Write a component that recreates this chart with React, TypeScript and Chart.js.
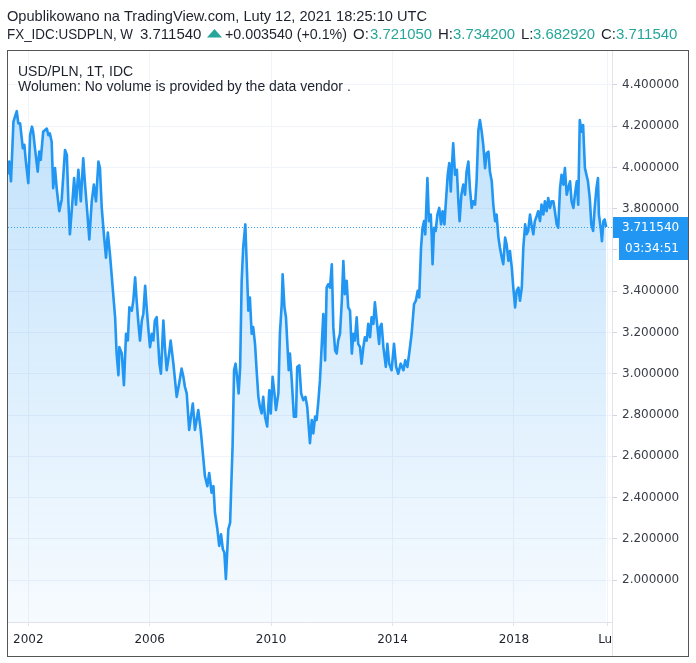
import React, { useEffect, useRef } from 'react';
import { Chart, registerables } from 'chart.js';

Chart.register(...registerables);

// ---- data (weekly closes) ----
const dates = [
  2001.31, 2001.37, 2001.43, 2001.51, 2001.62, 2001.67, 2001.73, 2001.82, 2001.87, 2001.92,
  2002.00, 2002.06, 2002.12, 2002.16, 2002.22, 2002.31, 2002.36, 2002.41, 2002.49, 2002.61,
  2002.66, 2002.71, 2002.77, 2002.82, 2002.88, 2002.94, 2003.02, 2003.10, 2003.21, 2003.27,
  2003.32, 2003.37, 2003.43, 2003.51, 2003.57, 2003.65, 2003.73, 2003.81, 2003.87, 2003.94,
  2004.01, 2004.09, 2004.16, 2004.23, 2004.31, 2004.36, 2004.42, 2004.49, 2004.56, 2004.62,
  2004.69, 2004.78, 2004.86, 2004.91, 2004.97, 2005.00, 2005.08, 2005.15, 2005.22, 2005.28,
  2005.33, 2005.41, 2005.46, 2005.52, 2005.57, 2005.62, 2005.68, 2005.74, 2005.79, 2005.85,
  2005.90, 2005.95, 2006.01, 2006.07, 2006.12, 2006.17, 2006.23, 2006.32, 2006.37, 2006.45,
  2006.50, 2006.56, 2006.64, 2006.69, 2006.78, 2006.89, 2006.97, 2007.05, 2007.11, 2007.16,
  2007.22, 2007.30, 2007.42, 2007.49, 2007.60, 2007.68, 2007.75, 2007.82, 2007.90, 2007.96,
  2008.04, 2008.10, 2008.15, 2008.23, 2008.29, 2008.35, 2008.41, 2008.46, 2008.51, 2008.59,
  2008.65, 2008.68, 2008.73, 2008.78, 2008.83, 2008.89, 2008.93, 2008.98, 2009.03, 2009.08,
  2009.15, 2009.20, 2009.25, 2009.30, 2009.36, 2009.41, 2009.47, 2009.53, 2009.58, 2009.63,
  2009.69, 2009.74, 2009.80, 2009.87, 2009.94, 2009.99, 2010.05, 2010.11, 2010.16, 2010.24,
  2010.29, 2010.35, 2010.38, 2010.44, 2010.49, 2010.53, 2010.58, 2010.62, 2010.68, 2010.75,
  2010.82, 2010.86, 2010.93, 2010.99, 2011.06, 2011.13, 2011.19, 2011.28, 2011.34, 2011.39,
  2011.45, 2011.50, 2011.56, 2011.61, 2011.67, 2011.72, 2011.78, 2011.83, 2011.88, 2011.94,
  2012.00, 2012.05, 2012.11, 2012.16, 2012.21, 2012.27, 2012.33, 2012.38, 2012.43, 2012.49,
  2012.54, 2012.60, 2012.66, 2012.71, 2012.76, 2012.82, 2012.87, 2012.93, 2012.98, 2013.04,
  2013.09, 2013.15, 2013.20, 2013.26, 2013.31, 2013.37, 2013.42, 2013.48, 2013.56, 2013.59,
  2013.64, 2013.70, 2013.78, 2013.83, 2013.89, 2013.97, 2014.05, 2014.12, 2014.19, 2014.27,
  2014.36, 2014.42, 2014.49, 2014.55, 2014.63, 2014.71, 2014.77, 2014.83, 2014.88, 2014.94,
  2014.99, 2015.04, 2015.08, 2015.15, 2015.20, 2015.26, 2015.29, 2015.32, 2015.37, 2015.42,
  2015.48, 2015.54, 2015.60, 2015.65, 2015.71, 2015.76, 2015.82, 2015.87, 2015.92, 2015.96,
  2016.00, 2016.06, 2016.12, 2016.17, 2016.21, 2016.27, 2016.33, 2016.39, 2016.44, 2016.50,
  2016.55, 2016.61, 2016.66, 2016.72, 2016.77, 2016.83, 2016.88, 2016.94, 2016.99, 2017.05,
  2017.10, 2017.16, 2017.21, 2017.27, 2017.32, 2017.38, 2017.43, 2017.49, 2017.54, 2017.60,
  2017.65, 2017.71, 2017.76, 2017.82, 2017.87, 2017.93, 2017.98, 2018.04, 2018.09, 2018.15,
  2018.20, 2018.26, 2018.31, 2018.37, 2018.42, 2018.47, 2018.53, 2018.58, 2018.64, 2018.69,
  2018.75, 2018.80, 2018.86, 2018.91, 2018.97, 2019.02, 2019.08, 2019.13, 2019.19, 2019.24,
  2019.30, 2019.35, 2019.41, 2019.46, 2019.52, 2019.57, 2019.63, 2019.68, 2019.74, 2019.79,
  2019.85, 2019.90, 2019.96, 2020.01, 2020.07, 2020.12, 2020.17, 2020.23, 2020.28, 2020.34,
  2020.39, 2020.44, 2020.50, 2020.55, 2020.61, 2020.66, 2020.72, 2020.77, 2020.80, 2020.86,
  2020.90, 2020.95, 2020.99, 2021.04,
];

const closes = [
  3.965, 4.029, 3.933, 4.222, 4.273, 4.214, 4.214, 4.093, 4.110, 4.029,
  3.924, 4.157, 4.198, 4.173, 4.093, 3.980, 4.077, 4.037, 4.173, 4.189,
  4.157, 4.165, 4.125, 3.900, 3.997, 3.892, 3.788, 3.844, 4.085, 4.061,
  3.836, 3.676, 3.788, 3.949, 3.820, 3.989, 3.836, 4.045, 3.917, 3.788,
  3.651, 3.836, 3.917, 3.836, 4.029, 3.997, 3.804, 3.676, 3.563, 3.684,
  3.580, 3.418, 3.274, 3.098, 2.993, 3.129, 3.098, 2.945, 3.194, 3.161,
  3.322, 3.306, 3.354, 3.467, 3.354, 3.258, 3.161, 3.258, 3.290, 3.427,
  3.322, 3.226, 3.129, 3.194, 3.161, 3.258, 3.274, 3.049, 3.000, 3.258,
  3.129, 3.017, 3.098, 3.161, 3.049, 2.888, 2.953, 3.025, 2.985, 2.937,
  2.905, 2.728, 2.856, 2.728, 2.824, 2.728, 2.616, 2.503, 2.455, 2.519,
  2.423, 2.455, 2.326, 2.246, 2.165, 2.222, 2.149, 2.133, 2.005, 2.246,
  2.278, 2.423, 2.647, 3.017, 3.049, 2.969, 2.905, 3.033, 3.451, 3.611,
  3.724, 3.515, 3.306, 3.370, 3.194, 3.226, 3.145, 3.000, 2.888, 2.840,
  2.808, 2.888, 2.792, 2.744, 2.920, 2.808, 2.985, 2.905, 2.824, 2.905,
  3.194, 3.338, 3.482, 3.322, 3.274, 3.161, 3.017, 3.098, 2.969, 2.792,
  2.792, 3.033, 3.041, 2.905, 2.872, 2.888, 2.840, 2.663, 2.776, 2.711,
  2.792, 2.776, 2.872, 2.969, 3.145, 3.290, 3.065, 3.418, 3.434, 3.418,
  3.531, 3.226, 3.113, 3.098, 3.161, 3.194, 3.354, 3.547, 3.386, 3.451,
  3.322, 3.306, 3.098, 3.194, 3.161, 3.274, 3.145, 3.129, 3.049, 3.129,
  3.177, 3.161, 3.242, 3.177, 3.274, 3.242, 3.346, 3.258, 3.145, 3.226,
  3.242, 3.129, 3.033, 3.145, 3.049, 3.017, 3.145, 3.033, 3.000, 3.049,
  3.017, 3.065, 3.033, 3.098, 3.194, 3.338, 3.354, 3.402, 3.370, 3.611,
  3.708, 3.740, 3.676, 3.949, 3.740, 3.772, 3.676, 3.531, 3.708, 3.692,
  3.772, 3.804, 3.724, 3.788, 3.724, 3.836, 3.965, 4.021, 3.884, 4.013,
  4.117, 3.965, 3.989, 3.836, 3.740, 3.868, 3.917, 3.868, 3.980, 4.029,
  3.900, 3.804, 3.836, 3.820, 3.933, 4.181, 4.230, 4.173, 4.110, 3.997,
  4.069, 4.077, 3.980, 3.933, 3.820, 3.740, 3.772, 3.660, 3.611, 3.563,
  3.531, 3.660, 3.627, 3.547, 3.595, 3.515, 3.418, 3.322, 3.402, 3.418,
  3.354, 3.418, 3.611, 3.724, 3.676, 3.692, 3.772, 3.724, 3.676, 3.740,
  3.764, 3.788, 3.740, 3.820, 3.772, 3.836, 3.788, 3.852, 3.804, 3.836,
  3.836, 3.788, 3.724, 3.708, 3.900, 3.965, 3.917, 3.997, 3.868, 3.900,
  3.933, 3.836, 3.804, 3.868, 3.933, 3.820, 4.230, 4.173, 4.206, 3.997,
  3.965, 3.933, 3.850, 3.724, 3.692, 3.800, 3.900, 3.949, 3.772, 3.708,
  3.643, 3.740, 3.748, 3.7115,
];

const xTickValues = [2002, 2006, 2010, 2014, 2018, 2021.085];
const xTickLabels = ['2002', '2006', '2010', '2014', '2018', 'Lut'];
const yTickValues = [2.0, 2.2, 2.4, 2.6, 2.8, 3.0, 3.2, 3.4, 3.6, 3.8, 4.0, 4.2, 4.4];
const hiddenYTicks = [3.6];
const xRange = [2001.331, 2021.232];
const yRange = [1.7964, 4.5648];

const lastClose = 3.71154;
const lastCloseLabel = '3.711540';
const countdownLabel = '03:34:51';

const headerTitle = 'Opublikowano na TradingView.com, Luty 12, 2021 18:25:10 UTC';
const symbolLabel = 'FX_IDC:USDPLN, W';
const changeLabel = '+0.003540 (+0.1%)';
const ohlcKeys = ['O:', 'H:', 'L:', 'C:'];
const ohlcValues = ['3.721050', '3.734200', '3.682920', '3.711540'];
const legendLines = ['USD/PLN, 1T, IDC', 'Wolumen: No volume is provided by the data vendor .'];

const BLUE = '#2196f3';
const TEAL = '#26a69a';
const TEXT = '#1e222d';

const overlayPlugin = {
  id: 'tvOverlay',
  afterDraw(chart: any) {
    const { ctx, chartArea, scales } = chart;
    const yPix = Math.round(scales.y.getPixelForValue(lastClose));
    ctx.save();

    // dotted last-price line
    ctx.strokeStyle = 'rgba(33,150,243,0.9)';
    ctx.lineWidth = 1;
    ctx.setLineDash([1, 2]);
    ctx.beginPath();
    ctx.moveTo(chartArea.left, yPix + 0.5);
    ctx.lineTo(chartArea.right, yPix + 0.5);
    ctx.stroke();
    ctx.setLineDash([]);

    // clip time-axis label that runs under the price scale
    ctx.fillStyle = '#ffffff';
    ctx.fillRect(chartArea.right + 1, chartArea.bottom + 1, 80, 40);
    ctx.strokeStyle = '#e0e3eb';
    ctx.beginPath();
    ctx.moveTo(chartArea.right + 0.5, chartArea.bottom);
    ctx.lineTo(chartArea.right + 0.5, 656);
    ctx.stroke();

    // price label boxes
    ctx.fillStyle = BLUE;
    ctx.fillRect(613, yPix - 10, 75, 21);
    ctx.fillRect(619, yPix + 11, 69, 22);
    ctx.fillStyle = '#ffffff';
    ctx.font = '12px "DejaVu Sans"';
    ctx.textBaseline = 'middle';
    ctx.textAlign = 'left';
    ctx.fillText(lastCloseLabel, 622, yPix + 1);
    ctx.fillText(countdownLabel, 625, yPix + 22);

    // frame
    ctx.strokeStyle = '#555555';
    ctx.lineWidth = 1;
    ctx.strokeRect(7.5, 50.5, 681, 606);

    // header
    ctx.textBaseline = 'alphabetic';
    ctx.fillStyle = TEXT;
    ctx.font = '15px "Liberation Sans", Arial, sans-serif';
    ctx.fillText(headerTitle, 7, 20.5, 420);
    const by = 38.5;
    ctx.fillText(symbolLabel, 7, by, 126);
    ctx.fillText(lastCloseLabel, 140, by, 62);
    ctx.fillStyle = TEAL;
    ctx.beginPath();
    ctx.moveTo(207, 37.5);
    ctx.lineTo(222, 37.5);
    ctx.lineTo(214.5, 29);
    ctx.closePath();
    ctx.fill();
    ctx.fillStyle = TEXT;
    ctx.fillText(changeLabel, 225, by, 122);
    const keyX = [353, 438, 521, 601];
    const valX = [370, 453, 533, 616];
    for (let i = 0; i < ohlcKeys.length; i++) {
      ctx.fillStyle = TEXT;
      ctx.fillText(ohlcKeys[i], keyX[i], by);
      ctx.fillStyle = TEAL;
      ctx.fillText(ohlcValues[i], valX[i], by, 62);
    }

    // legend
    ctx.fillStyle = TEXT;
    ctx.font = '14px "Liberation Sans", Arial, sans-serif';
    ctx.fillText(legendLines[0], 18, 76);
    ctx.fillText(legendLines[1], 18, 91);

    ctx.restore();
  },
};

export default function App() {
  const canvasRef = useRef<HTMLCanvasElement | null>(null);

  useEffect(() => {
    const canvas = canvasRef.current;
    if (!canvas) return;
    const points = dates.map((d, i) => ({ x: d, y: closes[i] }));
    const chart = new Chart(canvas, {
      type: 'line',
      data: {
        datasets: [
          {
            data: points,
            borderColor: BLUE,
            borderWidth: 2.6,
            borderJoinStyle: 'round',
            pointRadius: 0,
            tension: 0,
            fill: 'start',
            backgroundColor: (c: any) => {
              const ch = c.chart;
              const ca = ch.chartArea;
              if (!ca) return 'rgba(33,150,243,0.15)';
              const g = ch.ctx.createLinearGradient(0, ca.top, 0, ca.bottom);
              g.addColorStop(0, 'rgba(33,150,243,0.30)');
              g.addColorStop(1, 'rgba(33,150,243,0.04)');
              return g;
            },
          },
        ],
      },
      options: {
        responsive: false,
        animation: false,
        devicePixelRatio: 1,
        layout: { padding: { left: 8, right: 8, top: 51, bottom: 7 } },
        plugins: { legend: { display: false }, tooltip: { enabled: false } },
        scales: {
          x: {
            type: 'linear',
            min: xRange[0],
            max: xRange[1],
            afterBuildTicks: (scale: any) => {
              scale.ticks = xTickValues.map((v) => ({ value: v }));
            },
            afterFit: (scale: any) => {
              scale.height = 34;
            },
            ticks: {
              autoSkip: false,
              maxRotation: 0,
              padding: 7,
              color: '#1e222d',
              font: { family: 'DejaVu Sans', size: 12 },
              callback: (_v: any, i: number) => xTickLabels[i],
            },
            grid: { color: '#f0f3fa', tickLength: 4, tickColor: '#e0e3eb' },
            border: { color: '#e0e3eb' },
          },
          y: {
            type: 'linear',
            position: 'right',
            min: yRange[0],
            max: yRange[1],
            afterBuildTicks: (scale: any) => {
              scale.ticks = yTickValues.map((v) => ({ value: v }));
            },
            afterFit: (scale: any) => {
              scale.width = 76;
            },
            ticks: {
              padding: 5,
              color: '#3a3e48',
              font: { family: 'DejaVu Sans', size: 12 },
              callback: (v: any) => {
                const n = Number(v);
                if (hiddenYTicks.some((h) => Math.abs(h - n) < 1e-6)) return '';
                return n.toFixed(6);
              },
            },
            grid: { color: '#f0f3fa', tickLength: 5, tickColor: '#d1d4dc' },
            border: { color: '#e0e3eb' },
          },
        },
      },
      plugins: [overlayPlugin],
    } as any);
    return () => chart.destroy();
  }, []);

  return (
    <div style={{ position: 'absolute', left: 0, top: 0, width: 696, height: 663, background: '#ffffff' }}>
      <canvas ref={canvasRef} width={696} height={663} style={{ display: 'block', width: 696, height: 663 }} />
    </div>
  );
}
